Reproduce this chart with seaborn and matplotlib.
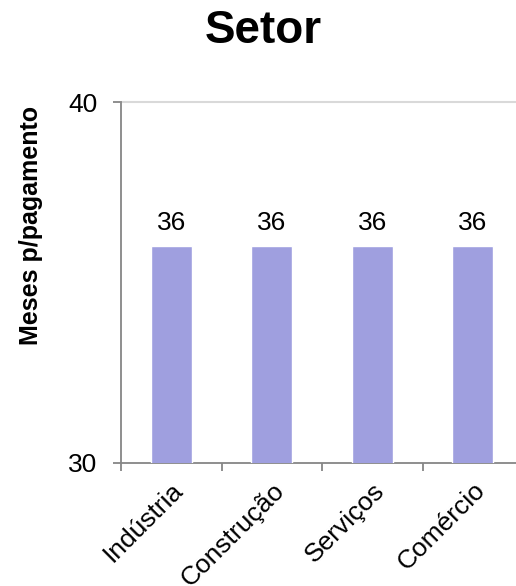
import matplotlib
matplotlib.use("Agg")
import matplotlib.pyplot as plt
import seaborn as sns
import pandas as pd

categories = ["Indústria", "Construção", "Serviços", "Comércio"]
values = [36, 36, 36, 36]
y_ticks = [30, 40]

sns.set_theme(style="white")
plt.rcParams["font.family"] = ["Liberation Sans", "DejaVu Sans"]
plt.rcParams["text.color"] = "black"
plt.rcParams["xtick.labelcolor"] = "black"
plt.rcParams["ytick.labelcolor"] = "black"
plt.rcParams["axes.labelcolor"] = "black"

df = pd.DataFrame({"Setor": categories, "Meses": values})

fig = plt.figure(figsize=(5.16, 5.86), dpi=100)
ax = fig.add_axes([121 / 516, 123 / 586, 402 / 516, 361 / 586])

sns.barplot(data=df, x="Setor", y="Meses", color="#9f9fdf", saturation=1,
            width=0.41, ax=ax, zorder=3)

ax.set_ylim(30, 40)
ax.set_yticks(y_ticks)
ax.set_yticklabels([str(t) for t in y_ticks], fontsize=19)
ax.set_xlim(-0.5, len(categories) - 0.5)
ax.axhline(40, color="#d9d9d9", lw=1.5, zorder=1, clip_on=False)

ax.set_xticks(range(len(categories)))
ax.set_xticklabels(categories, fontsize=19, rotation=45, ha="right",
                   va="top", rotation_mode="anchor")
ax.set_xticks([i - 0.5 for i in range(len(categories) + 1)], minor=True)
ax.tick_params(axis="x", which="major", length=0, pad=11)
ax.tick_params(axis="x", which="minor", length=5.5, width=1.3, color="#868686",
               direction="out", bottom=True)
ax.tick_params(axis="y", length=5.8, width=1.3, color="#868686", direction="out",
               left=True, pad=11)

for s in ["top", "right"]:
    ax.spines[s].set_visible(False)
for s in ["left", "bottom"]:
    ax.spines[s].set_color("#868686")
    ax.spines[s].set_linewidth(1.3)

for c in ax.containers:
    ax.bar_label(c, labels=[str(v) for v in values], fontsize=19, padding=8,
                 color="black")

ax.set_xlabel("")
ax.set_ylabel("Meses p/pagamento", fontsize=18, fontweight="bold")
ax.yaxis.set_label_coords(-(121 - 43) / 402, (463 - 225) / 361)
fig.text(263.5 / 516, 1 - 31 / 586, "Setor", fontsize=33, fontweight="bold",
         ha="center", va="center", color="black")

fig.savefig("out.png", dpi=100)
